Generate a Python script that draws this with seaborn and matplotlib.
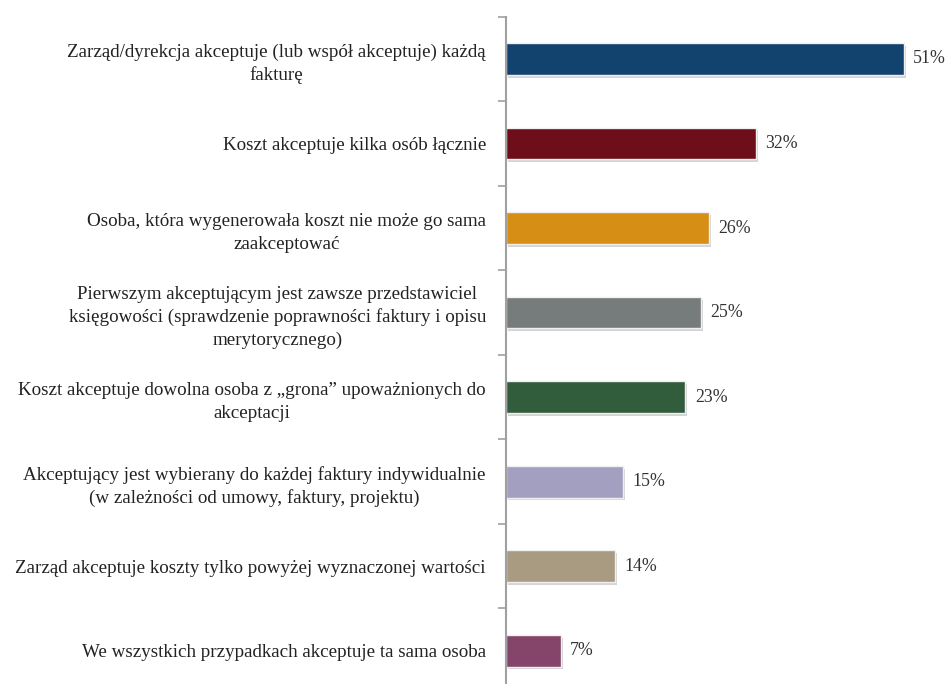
import matplotlib
matplotlib.use("Agg")
import matplotlib.pyplot as plt
import matplotlib.patheffects as pe
import seaborn as sns
import pandas as pd

categories = [
    "Zarząd/dyrekcja akceptuje (lub współ akceptuje) każdą\nfakturę",
    "Koszt akceptuje kilka osób łącznie",
    "Osoba, która wygenerowała koszt nie może go sama\nzaakceptować",
    "Pierwszym akceptującym jest zawsze przedstawiciel\nksięgowości (sprawdzenie poprawności faktury i opisu\nmerytorycznego)",
    "Koszt akceptuje dowolna osoba z „grona” upoważnionych do\nakceptacji",
    "Akceptujący jest wybierany do każdej faktury indywidualnie\n(w zależności od umowy, faktury, projektu)",
    "Zarząd akceptuje koszty tylko powyżej wyznaczonej wartości",
    "We wszystkich przypadkach akceptuje ta sama osoba",
]
values = [51, 32, 26, 25, 23, 15, 14, 7]
colors = ["#12436f", "#6e0e1b", "#d68e15", "#767b7c", "#325d3d",
          "#a39fc1", "#a99b82", "#854469"]

df = pd.DataFrame({"kategoria": categories, "procent": values})

sns.set_theme(style="white")
plt.rcParams["font.family"] = ["Liberation Serif", "DejaVu Serif"]

fig = plt.figure(figsize=(9.46, 6.84), dpi=100)
ax = fig.add_axes([0.5349, -0.0132, 0.4617, 0.9888])

sns.barplot(data=df, x="procent", y="kategoria", hue="kategoria",
            palette=colors, saturation=1, orient="h", width=0.375,
            legend=False, edgecolor="#f0f0f0", linewidth=1.0, ax=ax)

for bar in ax.patches:
    bar.set_path_effects([
        pe.SimplePatchShadow(offset=(1.5, -2), shadow_rgbFace="#a0a0a0", alpha=0.45),
        pe.Normal(),
    ])

for i, v in enumerate(values):
    ax.text(v + 1.2, i, f"{v}%", va="center", ha="left",
            fontsize=12.8, color="#333333")

ax.set_xlim(0, 56)
ax.set_ylim(7.5, -0.5)
ax.set_xlabel("")
ax.set_ylabel("")
ax.set_xticks([])

ax.set_yticks(range(len(categories)))
ax.set_yticklabels(categories, fontsize=13.7, color="#222222",
                   multialignment="center", linespacing=1.42)
ax.set_yticks([i - 0.5 for i in range(len(categories) + 1)], minor=True)
ax.tick_params(axis="y", which="major", length=0, pad=14.5)
ax.tick_params(axis="y", which="minor", length=6, width=1.2,
               color="#a0a0a0", left=True)

for side in ["top", "right", "bottom"]:
    ax.spines[side].set_visible(False)
ax.spines["left"].set_color("#a0a0a0")
ax.spines["left"].set_linewidth(1.5)

fig.savefig("out.png", dpi=100)
